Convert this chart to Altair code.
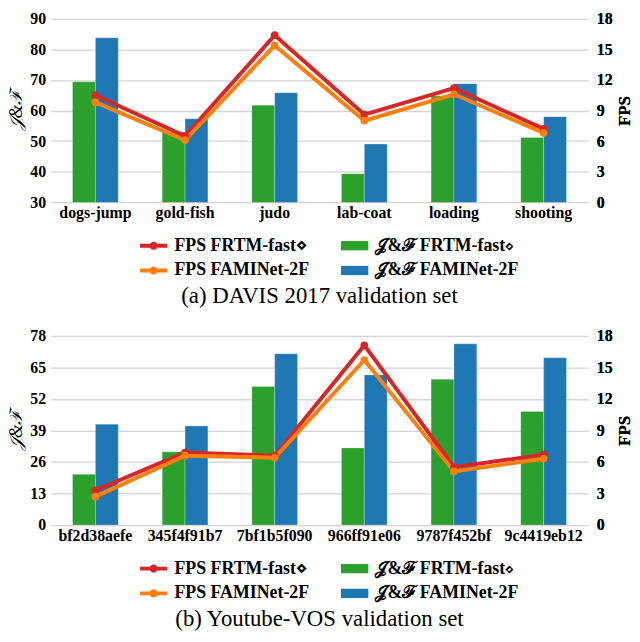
import altair as alt
import pandas as pd

JF1 = "𝒥&ℱ FRTM-fast⋄"
JF2 = "𝒥&ℱ FAMINet-2F"
FPS1 = "FPS FRTM-fast⋄"
FPS2 = "FPS FAMINet-2F"

cats_a = ["dogs-jump", "gold-fish", "judo", "lab-coat", "loading", "shooting"]
jf_frtm_a = [69.4, 53.0, 61.7, 39.3, 64.8, 51.2]
jf_fami_a = [83.8, 57.3, 65.8, 49.0, 68.8, 58.0]
fps_frtm_a = [10.5, 6.5, 16.4, 8.6, 11.2, 7.2]
fps_fami_a = [9.8, 6.1, 15.4, 8.0, 10.6, 6.8]
yticks_a = [30, 40, 50, 60, 70, 80, 90]

cats_b = ["bf2d38aefe", "345f4f91b7", "7bf1b5f090", "966ff91e06", "9787f452bf", "9c4419eb12"]
jf_frtm_b = [20.9, 30.2, 57.1, 31.8, 60.1, 46.8]
jf_fami_b = [41.6, 40.8, 70.6, 61.9, 74.7, 69.0]
fps_frtm_b = [3.3, 6.9, 6.6, 17.1, 5.5, 6.7]
fps_fami_b = [2.7, 6.6, 6.4, 15.7, 5.1, 6.3]
yticks_b = [0, 13, 26, 39, 52, 65, 78]

fps_ticks = [0, 3, 6, 9, 12, 15, 18]

GREEN, BLUE, RED, ORANGE = "#2ca02c", "#1f77b4", "#d62728", "#ff7f0e"
FONT = "Liberation Serif"
W = 543

LINE_SYM = ("M-1,-0.14L1,-0.14L1,0.14L-1,0.14Z "
            "M0.3,0A0.3,0.3 0 1,1 -0.3,0A0.3,0.3 0 1,1 0.3,0Z")
BAR_SYM = "M-1,-0.34L1,-0.34L1,0.34L-1,0.34Z"


def panel(cats, jf1, jf2, f1, f2, yticks, caption, H):
    LEG = dict(orient="none", legendY=H + 30, title=None, symbolSize=760,
               symbolStrokeWidth=0, labelFont=FONT, labelFontWeight="bold",
               labelFontSize=18, labelColor="black", rowPadding=2, labelOffset=7)
    bars = pd.DataFrame({"cat": cats * 2, "series": [JF1] * 6 + [JF2] * 6,
                         "val": jf1 + jf2})
    lines = pd.DataFrame({"cat": cats * 2, "series": [FPS1] * 6 + [FPS2] * 6,
                          "val": f1 + f2})
    x = alt.X("cat:N", sort=cats,
              scale=alt.Scale(paddingInner=0.49, paddingOuter=0.245),
              axis=alt.Axis(title=None, labelAngle=0, domain=False, ticks=False,
                            labelFont=FONT, labelFontWeight="bold", labelFontSize=16,
                            labelColor="black", labelPadding=3))
    bar = alt.Chart(bars).mark_bar(clip=True, stroke="white", strokeWidth=0.5,
                                   strokeOpacity=0.5).encode(
        x=x,
        xOffset=alt.XOffset("series:N", sort=[JF1, JF2]),
        y=alt.Y("val:Q",
                scale=alt.Scale(domain=[yticks[0], yticks[-1]], nice=False, zero=False),
                axis=alt.Axis(values=yticks, title="𝒥&ℱ", grid=True, gridColor="#d4d4d4",
                              gridWidth=1.3, domain=False, ticks=False,
                              labelFont=FONT, labelFontWeight="bold", labelFontSize=16,
                              labelColor="black", labelPadding=5,
                              titleFont=FONT, titleFontSize=18, titleFontWeight="normal",
                              titleFontStyle="italic", titleColor="black", titlePadding=4)),
        fill=alt.Fill("series:N",
                      scale=alt.Scale(domain=[JF1, JF2], range=[GREEN, BLUE]),
                      legend=alt.Legend(legendX=293, symbolType=BAR_SYM, **LEG)),
    )
    y2 = alt.Y("val:Q", scale=alt.Scale(domain=[0, 18], nice=False),
               axis=alt.Axis(values=fps_ticks, orient="right", title="FPS", grid=False,
                             domain=False, ticks=False, labelFont=FONT,
                             labelFontWeight="bold", labelFontSize=16, labelColor="black",
                             labelPadding=8, titleFont=FONT, titleFontSize=17,
                             titleFontWeight="bold", titleColor="black", titleAngle=270,
                             titleBaseline="top", titlePadding=4))
    col = alt.Color("series:N", scale=alt.Scale(domain=[FPS1, FPS2], range=[RED, ORANGE]),
                    legend=alt.Legend(legendX=90, symbolType=LINE_SYM, **LEG))
    line = alt.Chart(lines).mark_line(strokeWidth=4).encode(
        x=x, y=y2, color=col, order=alt.Order("series:N", sort="descending"))
    pts = alt.Chart(lines).mark_circle(size=60, opacity=1).encode(x=x, y=y2, color=col)
    lc = alt.layer(bar, line, pts).resolve_scale(y="independent").properties(
        width=W, height=H,
        title=alt.TitleParams(caption, orient="bottom", font=FONT, fontSize=23,
                              fontWeight="normal", color="black", offset=6,
                              anchor="middle"))
    return lc


top = panel(cats_a, jf_frtm_a, jf_fami_a, fps_frtm_a, fps_fami_a, yticks_a,
            "(a) DAVIS 2017 validation set", 185)
bot = panel(cats_b, jf_frtm_b, jf_fami_b, fps_frtm_b, fps_fami_b, yticks_b,
            "(b) Youtube-VOS validation set", 191)

chart = alt.vconcat(top, bot, spacing=20).resolve_scale(
    color="independent", fill="independent").resolve_legend(
    color="independent", fill="independent").properties(
    padding={"left": 0, "top": 0, "right": 0, "bottom": 0}).configure_view(stroke=None)

chart.save("out.html", embed_options={"renderer": "svg", "actions": False})
